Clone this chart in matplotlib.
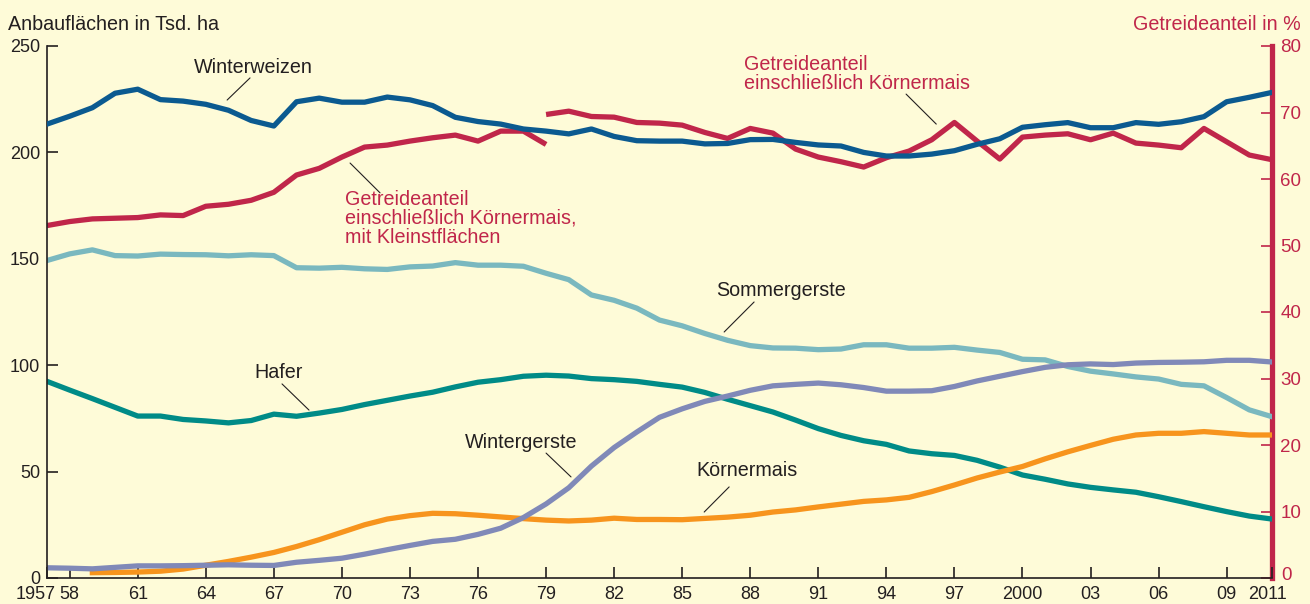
import matplotlib
matplotlib.use("Agg")
import matplotlib.pyplot as plt
import matplotlib.transforms as mtransforms

plt.rcParams["font.family"] = ["Liberation Sans", "DejaVu Sans"]

years = list(range(1957, 2012))

winterweizen = [
    213.3, 217.0, 221.0, 227.8, 229.7, 224.8, 224.1, 222.6, 219.8, 215.0,
    212.4, 223.8, 225.5, 223.6, 223.6, 226.0, 224.7, 222.0, 216.5, 214.5,
    213.3, 211.0, 210.0, 208.7, 211.0, 207.5, 205.5, 205.3, 205.3, 204.0,
    204.2, 206.0, 206.1, 204.7, 203.5, 203.0, 200.0, 198.3, 198.3, 199.2,
    200.8, 203.8, 206.4, 211.8, 213.0, 214.0, 211.6, 211.6, 214.0, 213.2,
    214.4, 216.8, 223.8, 225.9, 228.2,
]
sommergerste = [
    149.2, 152.3, 154.2, 151.5, 151.3, 152.2, 152.0, 151.9, 151.4, 151.9,
    151.5, 145.8, 145.6, 146.0, 145.3, 145.0, 146.2, 146.6, 148.2, 147.0,
    147.0, 146.5, 143.2, 140.2, 133.0, 130.5, 126.8, 121.2, 118.5, 114.9,
    111.7, 109.2, 108.1, 108.0, 107.3, 107.6, 109.6, 109.6, 108.0, 108.0,
    108.4, 107.1, 106.0, 102.8, 102.5, 99.4, 97.2, 95.9, 94.5, 93.5,
    91.0, 90.3, 84.8, 79.0, 75.8,
]
hafer = [
    92.4, 88.3, 84.3, 80.2, 76.1, 76.1, 74.5, 73.8, 72.9, 74.0,
    77.0, 76.0, 77.5, 79.2, 81.5, 83.5, 85.5, 87.3, 89.8, 92.0,
    93.2, 94.8, 95.3, 94.9, 93.7, 93.2, 92.4, 91.0, 89.7, 87.2,
    84.0, 81.0, 78.0, 74.2, 70.2, 67.0, 64.5, 62.8, 59.7, 58.4,
    57.6, 55.3, 52.1, 48.4, 46.4, 44.2, 42.6, 41.4, 40.3, 38.2,
    35.9, 33.5, 31.2, 29.1, 27.7,
]
wintergerste = [
    4.8, 4.6, 4.3, 5.0, 5.7, 5.7, 5.8, 6.0, 6.2, 6.0,
    5.9, 7.4, 8.3, 9.3, 11.2, 13.3, 15.3, 17.2, 18.2, 20.5,
    23.4, 28.4, 34.8, 42.4, 52.6, 61.3, 68.6, 75.5, 79.5, 83.0,
    85.5, 88.2, 90.3, 91.0, 91.6, 90.8, 89.5, 87.8, 87.8, 88.0,
    90.0, 92.6, 94.8, 97.0, 99.0, 100.2, 100.6, 100.3, 101.0, 101.3,
    101.4, 101.6, 102.3, 102.3, 101.5,
]
mais_years = list(range(1959, 2012))
koernermais = [
    2.5, 2.6, 2.8, 3.2, 4.2, 6.0, 7.8, 9.8,
    12.0, 14.8, 18.0, 21.5, 25.0, 27.7, 29.3, 30.4, 30.2, 29.5,
    28.7, 27.9, 27.2, 26.8, 27.2, 28.1, 27.5, 27.5, 27.4, 28.0,
    28.6, 29.5, 31.0, 32.0, 33.4, 34.7, 36.0, 36.7, 37.9, 40.6,
    43.7, 47.0, 49.8, 52.4, 56.0, 59.3, 62.3, 65.2, 67.2, 68.0,
    68.0, 68.8, 68.0, 67.2, 67.2,
]
# Getreideanteil in % (right axis)
anteil_klein_years = list(range(1957, 1980))
anteil_klein = [
    53.0, 53.6, 54.0, 54.1, 54.2, 54.6, 54.5, 55.9, 56.2, 56.8,
    58.0, 60.6, 61.6, 63.3, 64.8, 65.1, 65.7, 66.2, 66.6, 65.7,
    67.2, 67.2, 65.2,
]
anteil_years = list(range(1979, 2012))
anteil = [
    69.7, 70.2, 69.4, 69.3, 68.5, 68.4, 68.1, 67.0, 66.1, 67.6,
    66.9, 64.5, 63.3, 62.6, 61.8, 63.2, 64.2, 65.9, 68.5, 65.7,
    63.0, 66.3, 66.6, 66.8, 65.9, 66.9, 65.4, 65.1, 64.7, 67.6,
    65.6, 63.6, 62.9,
]

xticks = [1957, 1958, 1961, 1964, 1967, 1970, 1973, 1976, 1979, 1982, 1985,
          1988, 1991, 1994, 1997, 2000, 2003, 2006, 2009, 2011]
xticklabels = ["1957", "58", "61", "64", "67", "70", "73", "76", "79", "82",
               "85", "88", "91", "94", "97", "2000", "03", "06", "09", "2011"]

BG = "#fefbd8"
TXT = "#231f20"
RED = "#c0264a"
C_WW = "#0b5a90"
C_SG = "#7ab8bf"
C_HA = "#008b87"
C_WG = "#8089b8"
C_KM = "#f7941d"
LW = 3.8

fig = plt.figure(figsize=(13.1, 6.04), dpi=100, facecolor=BG)
ax = fig.add_axes([47 / 1310, 1 - 578 / 604, (1272 - 47) / 1310, (578 - 46) / 604])
ax.set_facecolor(BG)
ax2 = ax.twinx()

ax.plot(years, sommergerste, color=C_SG, lw=LW)
ax.plot(years, hafer, color=C_HA, lw=LW)
ax.plot(mais_years, koernermais, color=C_KM, lw=LW)
ax.plot(years, wintergerste, color=C_WG, lw=LW)
ax.plot(years, winterweizen, color=C_WW, lw=LW, zorder=3)
ax2.plot(anteil_klein_years, anteil_klein, color=RED, lw=LW, solid_capstyle="butt")
ax2.plot(anteil_years, anteil, color=RED, lw=LW, solid_capstyle="butt")
ax.set_zorder(ax2.get_zorder() + 1)
ax.patch.set_visible(False)
ax2.patch.set_visible(True)
ax2.patch.set_facecolor(BG)

ax.set_xlim(1957, 2011)
ax.set_ylim(0, 250)
ax2.set_ylim(0, 80)

ax.set_xticks(xticks)
ax.set_xticklabels(xticklabels)
ax.set_yticks([0, 50, 100, 150, 200, 250])
ax2.set_yticks(range(0, 81, 10))

for a in (ax, ax2):
    a.spines["top"].set_visible(False)
ax.spines["right"].set_visible(False)
ax2.spines["left"].set_visible(False)
ax2.spines["bottom"].set_visible(False)
ax.spines["left"].set_color(TXT)
ax.spines["bottom"].set_color(TXT)
ax.spines["left"].set_linewidth(1.2)
ax.spines["bottom"].set_linewidth(1.2)
ax2.spines["right"].set_color(RED)
ax2.spines["right"].set_linewidth(3.8)

ax.tick_params(axis="both", direction="in", length=8, width=1.2, color=TXT,
               labelcolor=TXT, labelsize=13)
ax.tick_params(axis="x", pad=6)
ax.tick_params(axis="y", pad=5)
ax2.tick_params(axis="y", direction="in", length=8, width=1.2, color=RED,
                labelcolor=RED, labelsize=13.5, pad=6)

# end labels of the x axis sit slightly off their ticks as in the print
labels = ax.get_xticklabels()
labels[0].set_transform(labels[0].get_transform() +
                        mtransforms.ScaledTranslation(-11 / 100, 0, fig.dpi_scale_trans))
labels[-1].set_transform(labels[-1].get_transform() +
                         mtransforms.ScaledTranslation(-4 / 100, 0, fig.dpi_scale_trans))
r0 = ax2.get_yticklabels()[0]
r0.set_transform(r0.get_transform() +
                 mtransforms.ScaledTranslation(1 / 100, 4 / 100, fig.dpi_scale_trans))

fig.text(8 / 1310, 1 - 30 / 604, "Anbauflächen in Tsd. ha", color=TXT,
         fontsize=14.2, va="baseline", ha="left")
fig.text(1301 / 1310, 1 - 30 / 604, "Getreideanteil in %", color=RED,
         fontsize=14.2, va="baseline", ha="right")

FS = 14.2
lead = dict(arrowstyle="-", color=TXT, lw=0.8, shrinkA=0, shrinkB=0)

ax.text(1966.1, 240.1, "Winterweizen", color=TXT, fontsize=FS, ha="center", va="center")
ax.annotate("", xy=(1964.94, 224.6), xytext=(1965.95, 235.0), arrowprops=lead)

ax.text(1970.14, 182.5, "Getreideanteil\neinschließlich Körnermais,\nmit Kleinstflächen",
        color=RED, fontsize=FS, ha="left", va="top", linespacing=1.02)
ax.annotate("", xy=(1971.68, 181.0), xytext=(1970.36, 195.0), arrowprops=lead)

ax.text(1987.73, 246.0, "Getreideanteil\neinschließlich Körnermais",
        color=RED, fontsize=FS, ha="left", va="top", linespacing=1.02)
ax.annotate("", xy=(1996.2, 213.3), xytext=(1994.87, 227.4), arrowprops=lead)

ax.text(1986.5, 134.9, "Sommergerste", color=TXT, fontsize=FS, ha="left", va="center")
ax.annotate("", xy=(1986.85, 115.6), xytext=(1988.17, 129.7), arrowprops=lead)

ax.text(1966.13, 96.8, "Hafer", color=TXT, fontsize=FS, ha="left", va="center")
ax.annotate("", xy=(1968.55, 78.9), xytext=(1967.36, 91.2), arrowprops=lead)

ax.text(1975.43, 63.9, "Wintergerste", color=TXT, fontsize=FS, ha="left", va="center")
ax.annotate("", xy=(1980.1, 47.5), xytext=(1979.0, 58.7), arrowprops=lead)

ax.text(1985.62, 50.3, "Körnermais", color=TXT, fontsize=FS, ha="left", va="center")
ax.annotate("", xy=(1985.97, 31.0), xytext=(1987.07, 42.8), arrowprops=lead)

fig.savefig("out.png", dpi=100, facecolor=BG)
